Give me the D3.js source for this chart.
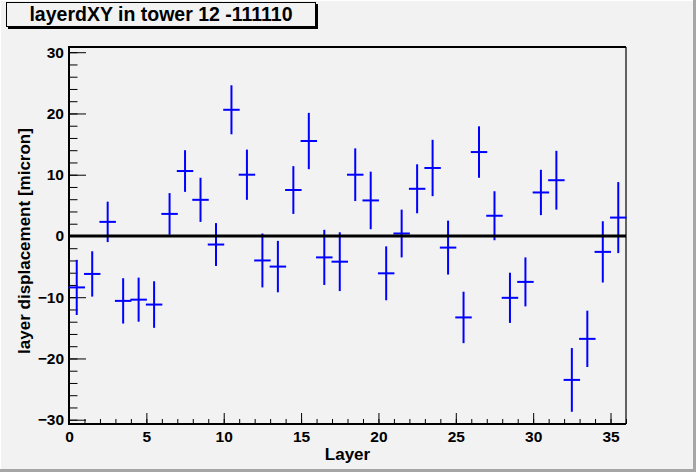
<!DOCTYPE html>
<html>
<head>
<meta charset="utf-8">
<script src="https://cdn.jsdelivr.net/npm/d3@7"></script>
<style>
  body { margin: 0; background: #f2f2f2; }
  svg { display: block; }
  .tick text { font-family: "Liberation Sans", Arial, sans-serif; font-weight: bold; font-size: 15.5px; fill: #000; }
</style>
</head>
<body>
<div id="chart"></div>
<script>
// 数据: 每层的位移及误差 (micron)
var layers = [0, 1, 2, 3, 4, 5, 6, 7, 8, 9, 10, 11, 12, 13, 14, 15, 16, 17,
    18, 19, 20, 21, 22, 23, 24, 25, 26, 27, 28, 29, 30, 31, 32, 33, 34, 35]
var dxy = [-8.4, -6.2, 2.3, -10.6, -10.4, -11.2, 3.6, 10.6, 5.9, -1.4, 20.6, 10.0,
    -4.0, -5.0, 7.5, 15.5, -3.5, -4.2, 10.0, 5.8, -6.1, 0.4, 7.7, 11.1,
    -1.9, -13.3, 13.7, 3.3, -10.1, -7.5, 7.1, 9.1, -23.5, -16.8, -2.6, 3.0]
var err = [4.5, 3.7, 3.3, 3.7, 3.6, 3.8, 3.4, 3.4, 3.6, 3.5, 4.0, 4.1,
    4.4, 4.2, 3.9, 4.6, 4.5, 4.8, 4.3, 4.7, 4.4, 3.9, 4.0, 4.6,
    4.4, 4.2, 4.2, 4.0, 4.1, 4.0, 3.7, 4.8, 5.2, 4.6, 5.0, 5.8]
var xMajor = [0, 5, 10, 15, 20, 25, 30, 35]
var yMajor = [-30, -20, -10, 0, 10, 20, 30]
var title = 'layerdXY in tower 12 -111110'
var xTitle = 'Layer'
var yTitle = 'layer displacement [micron]'

var width = 696
var height = 472
var marginLeft = 69
var marginRight = 70
var marginTop = 47
var marginBottom = 48
var W = width - marginLeft - marginRight
var H = height - marginTop - marginBottom
var font = '"Liberation Sans", Arial, sans-serif'

var svg = d3.select('#chart').append('svg')
    .attr('width', width)
    .attr('height', height)

// 画布背景及边框
svg.append('rect').attr('width', width).attr('height', height).attr('fill', '#f2f2f2')
svg.append('rect').attr('x', width - 3).attr('y', 0).attr('width', 3).attr('height', height).attr('fill', '#a6a6a6')
svg.append('rect').attr('x', 0).attr('y', height - 3).attr('width', width).attr('height', 3).attr('fill', '#a6a6a6')
svg.append('rect').attr('x', 0).attr('y', 0).attr('width', width - 3).attr('height', 1).attr('fill', '#fff')
svg.append('rect').attr('x', 0).attr('y', 0).attr('width', 1).attr('height', height - 3).attr('fill', '#fff')

//比例尺
var X = d3.scaleLinear().domain([0, 36]).range([0, W])
var Y = d3.scaleLinear().domain([-30.7, 30.85]).range([H, 0])
var xMinor = X.ticks(36)
var yMinor = d3.range(-30, 31, 2)

var rootG = svg.append('g')
    .attr('transform', 'translate(' + marginLeft + ',' + marginTop + ')')

// 坐标轴 (刻度朝内)
var yMinorG = rootG.append('g')
    .call(d3.axisLeft(Y).tickValues(yMinor).tickSizeInner(-8.5).tickSizeOuter(0).tickFormat(''))
var yMajorG = rootG.append('g')
    .call(d3.axisLeft(Y).tickValues(yMajor).tickSizeInner(-17).tickSizeOuter(0).tickPadding(5).tickFormat(d3.format('d')))
var xMinorG = rootG.append('g')
    .attr('transform', 'translate(0,' + H + ')')
    .call(d3.axisBottom(X).tickValues(xMinor).tickSizeInner(-5).tickSizeOuter(0).tickFormat(''))
var xMajorG = rootG.append('g')
    .attr('transform', 'translate(0,' + H + ')')
    .call(d3.axisBottom(X).tickValues(xMajor).tickSizeInner(-11).tickSizeOuter(0).tickPadding(7).tickFormat(d3.format('d')))
rootG.selectAll('.domain').remove()
rootG.selectAll('.tick line').attr('stroke', '#000').attr('stroke-width', 1)

// 框
rootG.append('line').attr('x1', 0).attr('x2', W).attr('y1', 0).attr('y2', 0)
    .attr('stroke', '#000').attr('stroke-width', 2)
rootG.append('line').attr('x1', W).attr('x2', W).attr('y1', 0).attr('y2', H)
    .attr('stroke', '#000').attr('stroke-width', 1.2)
rootG.append('line').attr('x1', 0).attr('x2', 0).attr('y1', -1).attr('y2', H + 1)
    .attr('stroke', '#000').attr('stroke-width', 2)
rootG.append('line').attr('x1', -1).attr('x2', W).attr('y1', H).attr('y2', H)
    .attr('stroke', '#000').attr('stroke-width', 2)

// 误差棒
var pts = rootG.append('g')
    .selectAll('g')
    .data(layers)
    .enter()
    .append('g')
pts.append('line')
    .attr('x1', function (d, i) { return X(d + 0.5) })
    .attr('x2', function (d, i) { return X(d + 0.5) })
    .attr('y1', function (d, i) { return Y(dxy[i] + err[i]) })
    .attr('y2', function (d, i) { return Y(dxy[i] - err[i]) })
    .attr('stroke', '#0000ff')
    .attr('stroke-width', 2)
pts.append('line')
    .attr('x1', function (d, i) { return X(d) - 0.5 })
    .attr('x2', function (d, i) { return X(d + 1) + 0.5 })
    .attr('y1', function (d, i) { return Y(dxy[i]) })
    .attr('y2', function (d, i) { return Y(dxy[i]) })
    .attr('stroke', '#0000ff')
    .attr('stroke-width', 2)

// 零线
rootG.append('line')
    .attr('x1', X(0)).attr('x2', X(36))
    .attr('y1', Y(0)).attr('y2', Y(0))
    .attr('stroke', '#000')
    .attr('stroke-width', 3)

// 轴标题
svg.append('text')
    .attr('x', marginLeft + W / 2)
    .attr('y', 460)
    .attr('text-anchor', 'middle')
    .attr('font-family', font)
    .attr('font-weight', 'bold')
    .attr('font-size', 17)
    .text(xTitle)
svg.append('text')
    .attr('transform', 'translate(30,241) rotate(-90)')
    .attr('text-anchor', 'middle')
    .attr('font-family', font)
    .attr('font-weight', 'bold')
    .attr('font-size', 17)
    .text(yTitle)

// 标题框
svg.append('rect').attr('x', 8).attr('y', 4).attr('width', 310).attr('height', 25).attr('fill', '#000')
svg.append('rect').attr('x', 6.5).attr('y', 2.5).attr('width', 309).attr('height', 24)
    .attr('fill', '#f2f2f2').attr('stroke', '#000').attr('stroke-width', 1)
svg.append('text')
    .attr('x', 161)
    .attr('y', 20.5)
    .attr('text-anchor', 'middle')
    .attr('font-family', font)
    .attr('font-weight', 'bold')
    .attr('font-size', 19.5)
    .text(title)
</script>
</body>
</html>
